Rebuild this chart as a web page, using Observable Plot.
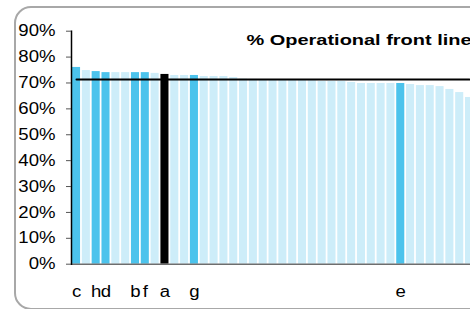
<!DOCTYPE html>
<html><head><meta charset="utf-8">
<script src="https://cdn.jsdelivr.net/npm/d3@7"></script>
<script src="https://cdn.jsdelivr.net/npm/@observablehq/plot@0.6"></script>
<style>
body{margin:0;background:#fff;}
#wrap{position:relative;width:470px;height:309px;overflow:hidden;}
#frame{position:absolute;left:14px;top:6px;width:600px;height:300px;border:2px solid #a8a8a8;border-radius:17px;}
#chart{position:absolute;left:0;top:0;}
</style></head><body>
<div id="wrap"><div id="frame"></div><div id="chart"></div></div>
<script>
// categories (bar order), labels, values (%), kinds
const ids = d3.range(1, 42);
const labels = ["c","","h","d","","","b","f","","a","","","g","","","","","","","","","","","","","","","","","","","","","e","","","","","","",""];
const kinds  = ["hl","o","hl","hl","o","o","hl","hl","o","self","o","o","hl","o","o","o","o","o","o","o","o","o","o","o","o","o","o","o","o","o","o","o","o","hl","o","o","o","o","o","o","o"];
const values = [76.0,74.8,74.4,74.0,74.0,74.0,74.0,74.0,73.7,73.3,72.9,72.9,72.9,72.5,72.5,72.5,72.1,71.5,71.4,71.3,71.3,71.2,71.1,71.0,70.9,70.6,70.6,70.6,70.2,69.8,69.8,69.8,69.8,69.8,69.4,69.0,69.0,68.6,67.5,66.3,64.4];
const target = 71.3;
const yTicks = [0,10,20,30,40,50,60,70,80,90];
const title = "% Operational front line";

const data = ids.map((id, i) => ({id, v: values[i], label: labels[i], kind: kinds[i]}));

const chart = Plot.plot({
  width: 470, height: 309,
  marginLeft: 71, marginRight: 0, marginTop: 30.7, marginBottom: 45.3,
  style: {fontFamily: "'Liberation Sans', Arial, sans-serif", fontSize: "16px", background: "transparent", overflow: "hidden"},
  x: {domain: ids, range: [72, 473.06], paddingInner: 0.18, paddingOuter: 0, align: 0},
  y: {domain: [0, 90]},
  color: {domain: ["o","hl","self"], range: ["#cdedf9","#4cc3ec","#000000"]},
  marks: [
    Plot.barY(data, {x: "id", y: "v", fill: "kind"}),
    Plot.lineY(data, {x: "id", y: () => target, stroke: "#000", strokeWidth: 2}),
    Plot.frame({anchor: "bottom", stroke: "#6e6e6e", strokeWidth: 1.5}),
    Plot.frame({anchor: "left", stroke: "#000", strokeWidth: 1.5}),
    Plot.axisY({ticks: yTicks, tickFormat: d => d + "%", tickSize: 5, tickPadding: 11, stroke: "#555", fill: "#000", fontSize: 16, label: null}),
    Plot.axisX({tickSize: 0, tickPadding: 21, tickFormat: id => labels[id - 1], fill: "#000", fontSize: 16, label: null}),
    Plot.text([title], {frameAnchor: "top-left", dx: 175, dy: 9, textAnchor: "start", lineAnchor: "middle", fontWeight: "bold", fontSize: 15, fill: "#000"})
  ]
});
document.getElementById("chart").appendChild(chart);
// mimic the horizontally stretched text of the original
chart.querySelectorAll("text").forEach(t => {
  const w = t.getComputedTextLength();
  const bold = t.closest("[font-weight='bold']") || t.getAttribute("font-weight") === "bold";
  const k = bold ? 1.33 : 1.16;
  if (w > 0) { t.setAttribute("textLength", w * k); t.setAttribute("lengthAdjust", "spacingAndGlyphs"); }
});
</script>
</body></html>
